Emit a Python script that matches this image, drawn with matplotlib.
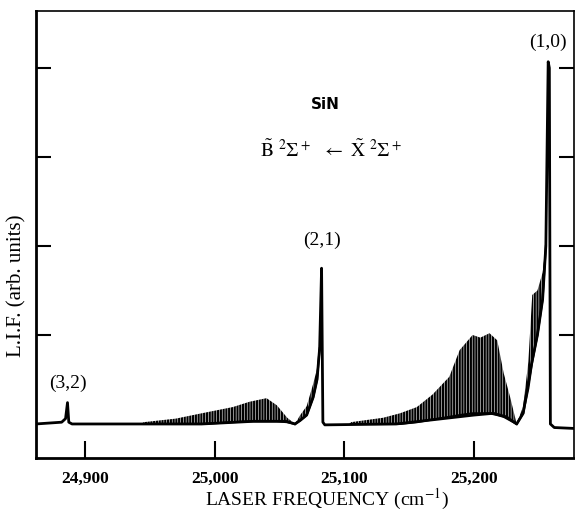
import matplotlib
matplotlib.use("Agg")
from matplotlib import pyplot as plt

# main trace: baseline, lower envelope and the sharp bandheads (cm-1, arb. units)
spec_f = [24862, 24882, 24885, 24886.5, 24887.5, 24890, 24945, 24990, 25030, 25055,
          25062, 25066, 25071, 25076, 25079, 25081, 25082.5, 25083.5, 25085, 25140,
          25200, 25215, 25225, 25233, 25238, 25244, 25249, 25253, 25255.5, 25257.3,
          25258.2, 25259, 25262, 25277]
spec_y = [0.0, 0.02, 0.06, 0.24, 0.02, 0.0, 0.0, 0.0, 0.03, 0.03,
          0.0, 0.04, 0.1, 0.3, 0.5, 0.85, 1.75, 0.02, -0.01, 0.0,
          0.1, 0.12, 0.08, 0.0, 0.12, 0.64, 1.0, 1.4, 2.0, 4.07,
          4.0, 0.0, -0.04, -0.05]

# rotational structure envelopes (upper / lower)
b1_f = [24945, 24970, 24990, 25014, 25027, 25040, 25048, 25056, 25062]
b1_hi = [0.02, 0.06, 0.12, 0.19, 0.25, 0.29, 0.21, 0.07, 0.0]
b1_lo = [0.0, 0.0, 0.0, 0.02, 0.03, 0.03, 0.03, 0.02, 0.0]

r1_f = [25062, 25066, 25071, 25076, 25079, 25081]
r1_hi = [0.0, 0.1, 0.2, 0.45, 0.62, 0.9]
r1_lo = [0.0, 0.04, 0.1, 0.3, 0.5, 0.85]

b2_f = [25105, 25130, 25143, 25156, 25168, 25181, 25189, 25199, 25205, 25212,
        25218, 25223, 25228, 25233]
b2_hi = [0.02, 0.07, 0.12, 0.19, 0.33, 0.53, 0.83, 1.0, 0.97, 1.02,
         0.94, 0.57, 0.30, 0.0]
b2_lo = [0.0, 0.0, 0.0, 0.02, 0.05, 0.08, 0.1, 0.12, 0.12, 0.12,
         0.1, 0.08, 0.04, 0.0]

r2_f = [25233, 25238, 25242, 25245, 25249, 25253, 25255.5]
r2_hi = [0.0, 0.2, 0.7, 1.45, 1.5, 1.7, 2.0]
r2_lo = [0.0, 0.12, 0.4, 0.7, 1.0, 1.4, 2.0]

labels = ["(3,2)", "(2,1)", "(1,0)"]
label_f = [24886.9, 25082.7, 25257]
label_y = [0.46, 2.06, 4.29]

xticks = [24900, 25000, 25100, 25200]
xticklabels = ["24,900", "25,000", "25,100", "25,200"]

plt.rcParams['mathtext.fontset'] = 'stix'
plt.rcParams['hatch.linewidth'] = 1.6
serif = 'Liberation Serif'

fig = plt.figure(figsize=(5.75, 5.14), dpi=100)
ax = fig.add_axes([0.0626, 0.109, 0.9354, 0.8696])

for f, hi, lo in [(b1_f, b1_hi, b1_lo), (r1_f, r1_hi, r1_lo),
                  (b2_f, b2_hi, b2_lo), (r2_f, r2_hi, r2_lo)]:
    ax.fill_between(f, lo, hi, facecolor='none', edgecolor='black',
                    hatch='||||||', linewidth=0)
    ax.plot(f, lo, color='black', linewidth=1.5)

ax.plot(spec_f, spec_y, color='black', linewidth=2.0)

for t, f, y in zip(labels, label_f, label_y):
    ax.text(f, y, t, ha='center', va='center', fontsize=14, family=serif)

ax.text(25085, 3.59, "SiN", ha='center', va='center', fontsize=11,
        fontweight='bold', family='DejaVu Sans')
ax.text(25090, 3.08,
        r'$\tilde{\mathrm{B}}\ {}^2\Sigma^+\ \ \leftarrow\ \tilde{\mathrm{X}}\ {}^2\Sigma^+$',
        ha='center', va='center', fontsize=14)

ax.set_xlim(24862.2, 25277.1)
ax.set_ylim(-0.382, 4.64)

ax.set_xticks(xticks)
ax.set_xticklabels(xticklabels, fontsize=12.5, fontweight='bold', family=serif)
ax.set_yticks([1, 2, 3, 4])
ax.set_yticklabels([])
ax.tick_params(axis='x', direction='in', length=12, width=1.5, pad=9)
ax.tick_params(axis='y', direction='in', length=11, width=1.5, right=True)

for s in ['left', 'bottom']:
    ax.spines[s].set_linewidth(2.0)
for s in ['top', 'right']:
    ax.spines[s].set_linewidth(1.2)

ax.set_xlabel(r'LASER FREQUENCY (cm$^{-1}$)', fontsize=14, family=serif)
ax.xaxis.set_label_coords(0.541, -0.064)
ax.set_ylabel('L.I.F. (arb. units)', fontsize=15, family=serif)
ax.yaxis.set_label_coords(-0.018, 0.385)

fig.savefig("out.png", dpi=100)
